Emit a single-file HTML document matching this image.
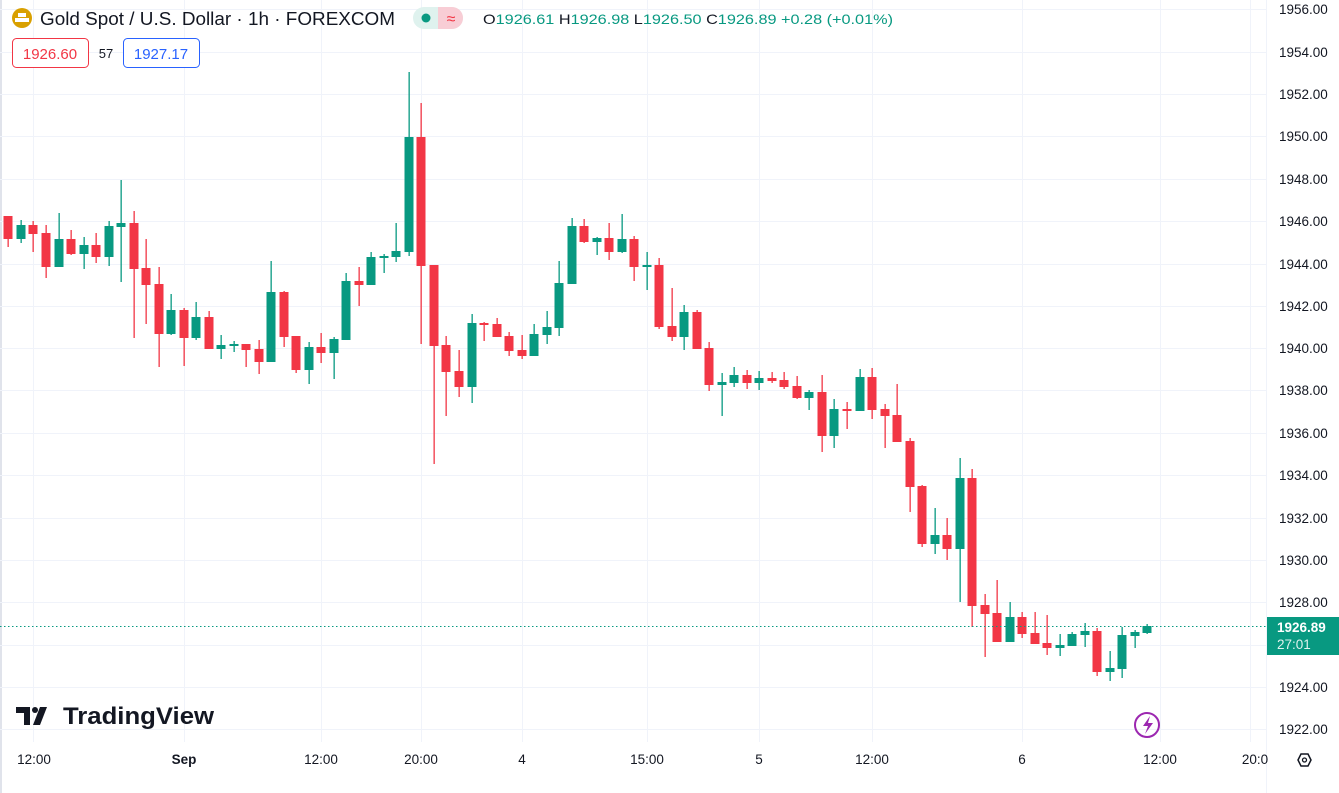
<!DOCTYPE html>
<html><head><meta charset="utf-8">
<style>
html,body{margin:0;padding:0;background:#fff;width:1339px;height:793px;overflow:hidden;font-family:"Liberation Sans",sans-serif;}
svg{position:absolute;left:0;top:0}
.ax{font-size:13.5px;fill:#131722}
</style></head><body>
<svg id="s" width="1339" height="793" xmlns="http://www.w3.org/2000/svg">
<rect x="0" y="0" width="2" height="793" fill="#e0e3eb"/>
<g id="grid" stroke="#f0f3fa" stroke-width="1"></g>
<g id="c"></g>
<line x1="0" y1="626.5" x2="1267" y2="626.5" stroke="#089981" stroke-dasharray="1.5,2.5"/>
<line x1="1266.5" y1="0" x2="1266.5" y2="793" stroke="#f0f3fa"/>
<g class="ax" text-anchor="start">
<text x="1279" y="14">1956.00</text><text x="1279" y="57">1954.00</text><text x="1279" y="99">1952.00</text>
<text x="1279" y="141">1950.00</text><text x="1279" y="184">1948.00</text><text x="1279" y="226">1946.00</text>
<text x="1279" y="269">1944.00</text><text x="1279" y="311">1942.00</text><text x="1279" y="353">1940.00</text>
<text x="1279" y="395">1938.00</text><text x="1279" y="438">1936.00</text><text x="1279" y="480">1934.00</text>
<text x="1279" y="523">1932.00</text><text x="1279" y="565">1930.00</text><text x="1279" y="607">1928.00</text>
<text x="1279" y="692">1924.00</text><text x="1279" y="734">1922.00</text>
</g>
<rect x="1267" y="617" width="72" height="38" fill="#089981"/>
<text x="1277" y="632" font-size="13.5" fill="#fff" font-weight="bold">1926.89</text>
<text x="1277" y="649" font-size="13.5" fill="#e0f2ee">27:01</text>
<g class="ax" text-anchor="middle">
<text x="34" y="764">12:00</text><text x="184" y="764" font-weight="bold">Sep</text><text x="321" y="764">12:00</text>
<text x="421" y="764">20:00</text><text x="522" y="764">4</text><text x="647" y="764">15:00</text>
<text x="759" y="764">5</text><text x="872" y="764">12:00</text><text x="1022" y="764">6</text>
<text x="1160" y="764">12:00</text><text x="1255" y="764">20:0</text>
</g>
<polygon points="1298,760 1301,754 1308,754 1311,760 1308,766 1301,766" fill="none" stroke="#131722" stroke-width="1.5"/>
<circle cx="1304.5" cy="760" r="2" fill="none" stroke="#131722" stroke-width="1.3"/>
<circle cx="1147" cy="725" r="12" fill="none" stroke="#9c27b0" stroke-width="2"/>
<path d="M1150 716 l-7 10 h5 l-3 8 l8 -11 h-5 z" fill="#9c27b0"/>
<!-- header -->
<circle cx="22" cy="18" r="10" fill="#d9a000"/>
<rect x="15" y="18" width="14" height="4" fill="#fff"/><rect x="18" y="13" width="8" height="4" fill="#fff"/>
<text x="40" y="25" font-size="18" fill="#131722" textLength="355" lengthAdjust="spacingAndGlyphs">Gold Spot / U.S. Dollar · 1h · FOREXCOM</text>
<rect x="413" y="7" width="50" height="22" rx="11" fill="#dff2ee"/>
<path d="M438 7 h14 a11 11 0 0 1 0 22 h-14 z" fill="#f8cdd5"/>
<circle cx="426" cy="18" r="4.5" fill="#089981"/>
<text x="451" y="24" font-size="16" fill="#f23645" text-anchor="middle">≈</text>
<text x="483" y="24" font-size="14" fill="#131722" textLength="410" lengthAdjust="spacingAndGlyphs">O<tspan fill="#089981">1926.61</tspan> H<tspan fill="#089981">1926.98</tspan> L<tspan fill="#089981">1926.50</tspan> C<tspan fill="#089981">1926.89 +0.28 (+0.01%)</tspan></text>
<rect x="12.5" y="38.5" width="76" height="29" rx="4" fill="#fff" stroke="#f23645"/>
<text x="50" y="59" font-size="15" fill="#f23645" text-anchor="middle">1926.60</text>
<text x="106" y="58" font-size="13" fill="#131722" text-anchor="middle">57</text>
<rect x="123.5" y="38.5" width="76" height="29" rx="4" fill="#fff" stroke="#2962ff"/>
<text x="161" y="59" font-size="15" fill="#2962ff" text-anchor="middle">1927.17</text>
<!-- TV logo -->
<path d="M16 707 h14 v18 h-6 v-12 h-8 z" fill="#131722"/>
<circle cx="35" cy="710" r="3" fill="#131722"/>
<path d="M40 707 h7 l-7 18 h-7 z" fill="#131722"/>
<text x="63" y="724" font-size="24" font-weight="bold" fill="#131722" textLength="151" lengthAdjust="spacingAndGlyphs">TradingView</text>
</svg>
<script>
var g=document.getElementById('grid'),ns='http://www.w3.org/2000/svg';
var ys=[9,52,94,136,179,221,264,306,348,390,433,475,518,560,602,645,687,729];
ys.forEach(function(y){var l=document.createElementNS(ns,'line');l.setAttribute('x1',0);l.setAttribute('x2',1267);l.setAttribute('y1',y+.5);l.setAttribute('y2',y+.5);g.appendChild(l);});
[33,184,321,421,522,647,759,872,1022,1160,1250].forEach(function(x){var l=document.createElementNS(ns,'line');l.setAttribute('x1',x+.5);l.setAttribute('x2',x+.5);l.setAttribute('y1',0);l.setAttribute('y2',742);g.appendChild(l);});
var G='#089981',R='#f23645';
var d=[[8,216,247,216,239,R],[21,220,243,225,239,G],[33,221,252,225,234,R],[46,225,278,233,267,R],[59,213,267,239,267,G],[71,230,255,239,254,R],[84,237,269,245,254,G],[96,233,263,245,257,R],[109,221,266,226,257,G],[121,180,282,223,227,G],[134,211,338,223,269,R],[146,239,324,268,285,R],[159,267,367,284,334,R],[171,294,335,310,334,G],[184,308,366,310,338,R],[196,302,340,317,338,G],[209,311,349,317,349,R],[221,335,359,345,349,G],[234,341,352,344,346,G],[246,344,367,344,350,R],[259,340,374,349,362,R],[271,261,362,292,362,G],[284,291,347,292,337,R],[296,336,373,336,370,R],[309,342,384,347,370,G],[321,333,363,347,353,R],[334,337,379,339,353,G],[346,273,340,281,340,G],[359,267,306,281,285,R],[371,252,285,257,285,G],[384,254,273,256,258,G],[396,223,262,251,257,G],[409,72,256,137,252,G],[421,103,344,137,266,R],[434,265,464,265,346,R],[446,336,416,345,372,R],[459,350,397,371,387,R],[472,314,403,323,387,G],[484,322,341,323,325,R],[497,318,337,324,337,R],[509,332,356,336,351,R],[522,335,359,350,356,R],[534,324,356,334,356,G],[547,311,344,327,335,G],[559,261,336,283,328,G],[572,218,284,226,284,G],[584,219,243,226,242,R],[597,237,255,238,242,G],[609,223,260,238,252,R],[622,214,253,239,252,G],[634,236,281,239,267,R],[647,252,290,265,267,G],[659,258,329,265,327,R],[672,288,341,326,337,R],[684,305,350,312,337,G],[697,310,349,312,349,R],[709,342,391,348,385,R],[722,373,416,382,385,G],[734,367,387,375,383,G],[747,370,389,375,383,R],[759,371,390,378,383,G],[772,372,383,378,381,R],[784,372,389,380,387,R],[797,376,399,386,398,R],[809,390,410,392,398,G],[822,375,452,392,436,R],[834,399,448,409,436,G],[847,402,429,409,411,R],[860,369,411,377,411,G],[872,368,419,377,410,R],[885,404,448,409,416,R],[897,384,442,415,442,R],[910,438,512,441,487,R],[922,485,547,486,544,R],[935,508,554,535,544,G],[947,518,560,535,549,R],[960,458,602,478,549,G],[972,469,627,478,606,R],[985,594,657,605,614,R],[997,580,642,613,642,R],[1010,602,642,617,642,G],[1022,612,638,617,634,R],[1035,612,644,633,644,R],[1047,615,655,643,648,R],[1060,634,656,645,648,G],[1072,632,646,634,646,G],[1085,623,647,631,635,G],[1097,628,676,631,672,R],[1110,651,681,668,672,G],[1122,627,678,635,669,G],[1135,630,648,632,636,G],[1147,624,634,626,633,G]];
var c=document.getElementById('c');
d.forEach(function(k){var w=document.createElementNS(ns,'rect');w.setAttribute('x',k[0]-0.5);w.setAttribute('y',k[1]);w.setAttribute('width',1.3);w.setAttribute('height',k[2]-k[1]);w.setAttribute('fill',k[5]);c.appendChild(w);
var b=document.createElementNS(ns,'rect');b.setAttribute('x',k[0]-4.5);b.setAttribute('y',k[3]);b.setAttribute('width',9);b.setAttribute('height',Math.max(2,k[4]-k[3]));b.setAttribute('fill',k[5]);c.appendChild(b);});
</script>
</body></html>
